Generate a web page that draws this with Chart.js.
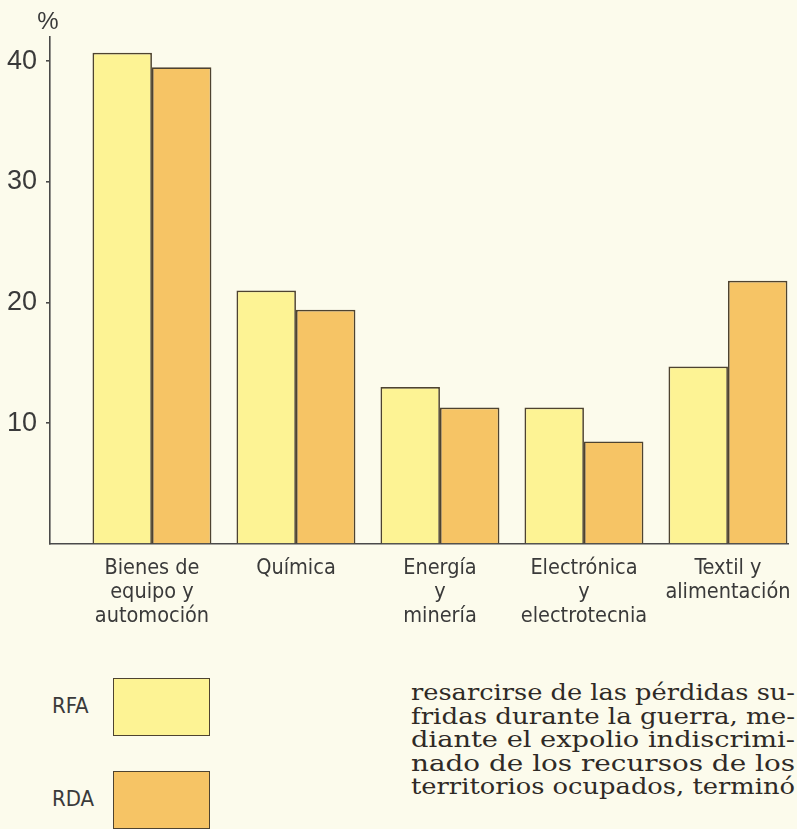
<!DOCTYPE html>
<html>
<head>
<meta charset="utf-8">
<script src="https://cdn.jsdelivr.net/npm/chart.js@4/dist/chart.umd.min.js"></script>
<style>
  html, body { margin: 0; padding: 0; background: #fcfbec; }
  #wrap { position: relative; width: 797px; height: 829px; overflow: hidden; background: #fcfbec; }
  #c { position: absolute; left: 0; top: 0; }
  .leg-row { position: absolute; left: 0; height: 60px; }
  .leg-label { position: absolute; left: 52px; width: 50px; text-align: left; font-family: "DejaVu Sans Condensed", "Liberation Sans", Arial, sans-serif; font-size: 22px; color: #3a3a3a; }
  .leg-box { position: absolute; left: 113px; width: 97px; height: 58px; box-sizing: border-box; }
  #para { position: absolute; left: 411px; top: 681px; width: 384px; font-family: "DejaVu Serif", serif; font-size: 21.5px; line-height: 23.5px; color: #2f2a26; }
  #para div { white-space: nowrap; height: 23.5px; }
  #para span { display: inline-block; transform-origin: 0 50%; }
</style>
</head>
<body>
<div id="wrap">
  <canvas id="c" width="797" height="660"></canvas>
  <div id="legend"></div>
  <div id="para">
    <div><span>resarcirse de las pérdidas su-</span></div>
    <div><span>fridas durante la guerra, me-</span></div>
    <div><span>diante el expolio indiscrimi-</span></div>
    <div><span>nado de los recursos de los</span></div>
    <div><span>territorios ocupados, terminó</span></div>
  </div>
</div>
<script>
const categories = [
  ["Bienes de", "equipo y", "automoción"],
  ["Química"],
  ["Energía", "y", "minería"],
  ["Electrónica", "y", "electrotecnia"],
  ["Textil y", "alimentación"]
];
const seriesNames = ["RFA", "RDA"];
const rfaValues = [40.7, 21.0, 13.0, 11.3, 14.7];
const rdaValues = [39.5, 19.4, 11.3, 8.5, 21.8];
const yTickValues = [10, 20, 30, 40];

const fillColors = ["#fdf394", "#f6c465"];
const edgeColor = "#4e4330";
const axisColor = "#4a4a4a";
const textColor = "#3a3a3a";
const condensedFamily = '"DejaVu Sans Condensed", "Liberation Sans", Arial, sans-serif';

function toPoints(vals) { return vals.map((v, i) => ({ x: i, y: v })); }

const percentPlugin = {
  id: 'percentLabel',
  afterDraw(chart) {
    const ctx = chart.ctx;
    const y = chart.scales.y;
    ctx.save();
    ctx.fillStyle = textColor;
    ctx.font = '24px "Liberation Sans", Arial, sans-serif';
    ctx.textAlign = 'center';
    ctx.textBaseline = 'alphabetic';
    ctx.fillText('%', y.right - 2, 29);
    ctx.restore();
  }
};

const chart = new Chart(document.getElementById('c'), {
  type: 'bar',
  data: {
    datasets: [
      { label: seriesNames[0], data: toPoints(rfaValues), backgroundColor: fillColors[0], borderColor: edgeColor, borderWidth: 1.7, borderSkipped: 'bottom' },
      { label: seriesNames[1], data: toPoints(rdaValues), backgroundColor: fillColors[1], borderColor: edgeColor, borderWidth: 1.7, borderSkipped: 'bottom' }
    ]
  },
  options: {
    responsive: false,
    animation: false,
    layout: { padding: { top: 37, right: 9, left: 0, bottom: 0 } },
    categoryPercentage: 0.826,
    barPercentage: 1.0,
    plugins: { legend: { display: false }, tooltip: { enabled: false }, title: { display: false } },
    scales: {
      x: {
        type: 'linear',
        min: -0.708,
        max: 4.417,
        offset: false,
        grid: { display: true, drawOnChartArea: false, drawTicks: false },
        border: { display: true, color: axisColor, width: 1.6 },
        afterFit(scale) { scale.height = 116; scale.paddingLeft = 0; scale.paddingRight = 0; },
        ticks: {
          stepSize: 1,
          includeBounds: false,
          autoSkip: false,
          maxRotation: 0,
          minRotation: 0,
          padding: 13,
          color: textColor,
          font: { family: condensedFamily, size: 21.5, lineHeight: 1.1 },
          callback(value) {
            return Number.isInteger(value) && categories[value] ? categories[value] : '';
          }
        }
      },
      y: {
        min: 0,
        max: 42,
        afterFit(scale) { scale.width = 50; },
        afterBuildTicks(scale) { scale.ticks = [0].concat(yTickValues).map(v => ({ value: v })); },
        grid: {
          drawOnChartArea: false,
          drawTicks: true,
          tickLength: 4,
          color: (c) => (c.tick && c.tick.value === 0 ? 'rgba(0,0,0,0)' : axisColor),
          lineWidth: 1.6
        },
        border: { display: true, color: axisColor, width: 1.6 },
        ticks: {
          padding: 9,
          color: textColor,
          font: { family: '"Liberation Sans", Arial, sans-serif', size: 27 },
          callback(value) { return value === 0 ? '' : String(value); }
        }
      }
    }
  },
  plugins: [percentPlugin]
});

// HTML legend built from the chart's datasets
const legend = document.getElementById('legend');
const rowTops = [678, 771];
chart.data.datasets.forEach((ds, i) => {
  const row = document.createElement('div');
  row.className = 'leg-row';
  row.style.top = rowTops[i] + 'px';
  const lab = document.createElement('div');
  lab.className = 'leg-label';
  lab.textContent = ds.label;
  lab.style.top = '15px';
  const box = document.createElement('div');
  box.className = 'leg-box';
  box.style.background = ds.backgroundColor;
  box.style.border = '1.7px solid ' + ds.borderColor;
  row.appendChild(lab);
  row.appendChild(box);
  legend.appendChild(row);
});

// Justified paragraph: widen each line (wide book face look) to fill the column
document.querySelectorAll('#para span').forEach(span => {
  const w = span.getBoundingClientRect().width;
  const s = Math.min(1.35, 384 / w);
  span.style.transform = 'scaleX(' + s.toFixed(4) + ')';
});
</script>
</body>
</html>
